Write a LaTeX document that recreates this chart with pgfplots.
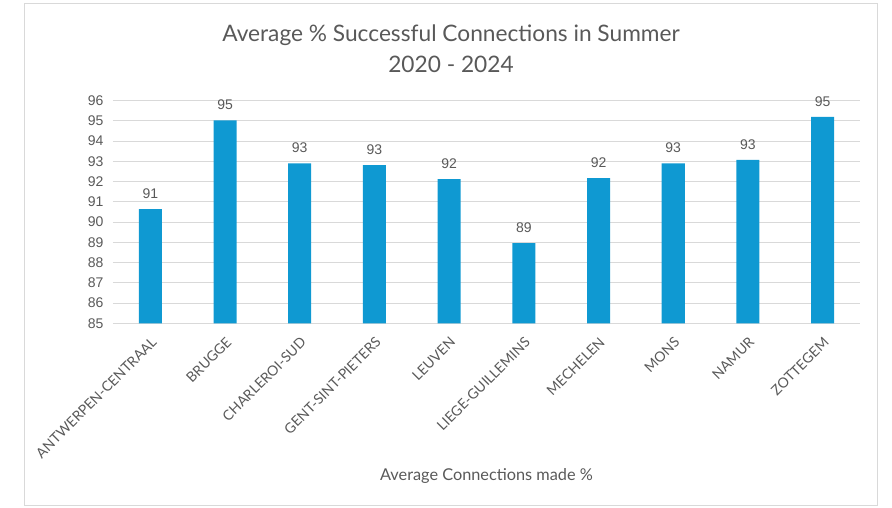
\documentclass[border=0pt]{standalone}
\usepackage{pgfplots}
\pgfplotsset{compat=1.18}
\usepackage{fontspec}
\setmainfont{Lato}
\newfontfamily\arialf{Liberation Sans}
\definecolor{barblue}{RGB}{15,153,210}
\definecolor{txt}{RGB}{89,89,89}
\definecolor{gridc}{RGB}{217,217,217}
\begin{document}
\begin{tikzpicture}[x=1pt,y=1pt]
\begin{axis}[
  scale only axis, width=747pt, height=222.6pt,
  ymin=85, ymax=96, ytick={85,...,96},
  xmin=-0.5, xmax=9.5,
  xtick={0,...,9},
  xticklabels={ANTWERPEN-CENTRAAL,BRUGGE,CHARLEROI-SUD,GENT-SINT-PIETERS,LEUVEN,LIEGE-GUILLEMINS,MECHELEN,MONS,NAMUR,ZOTTEGEM},
  ybar, bar width=23pt,
  axis line style={draw=none},
  major tick length=0pt,
  ymajorgrids, grid style={gridc, line width=1pt},
  /pgf/number format/assume math mode=true,
  yticklabel style={font=\arialf\fontsize{14}{14}\selectfont, text=txt, xshift=-6pt},
  xticklabel style={font=\fontsize{14}{14}\selectfont, text=txt, rotate=45, anchor=north east, inner sep=2pt, yshift=-7pt, xshift=-7pt},
  title={Average \% Successful Connections in Summer\\2020 - 2024},
  title style={at={(axis description cs:0.4525,1.316)}, anchor=north, inner sep=0pt, align=center, font=\fontsize{22.7}{31.5}\selectfont, text=txt},
  xlabel={Average Connections made \%},
  xlabel style={at={(axis description cs:0.5,-0.706)}, anchor=base, inner sep=0pt, font=\fontsize{16.3}{16.3}\selectfont, text=txt},
  clip=false,
]
\coordinate (O) at (rel axis cs:0,0);
\addplot[fill=barblue, draw=none, point meta=y,
  nodes near coords={\pgfmathprintnumber[fixed,precision=0,assume math mode=true]{\pgfplotspointmeta}},
  nodes near coords style={font=\arialf\fontsize{14}{14}\selectfont, text=txt, anchor=south, yshift=7pt}]
coordinates {(0,90.64) (1,95.03) (2,92.90) (3,92.82) (4,92.13) (5,88.96) (6,92.18) (7,92.90) (8,93.07) (9,95.20)};
\end{axis}
\draw[gridc, line width=1pt] ([shift={(-88pt,-182.7pt)}]O) rectangle ([shift={(764pt,319.3pt)}]O);
\path ([shift={(-113pt,-184.7pt)}]O) rectangle ([shift={(779pt,323.3pt)}]O);
\end{tikzpicture}
\end{document}
